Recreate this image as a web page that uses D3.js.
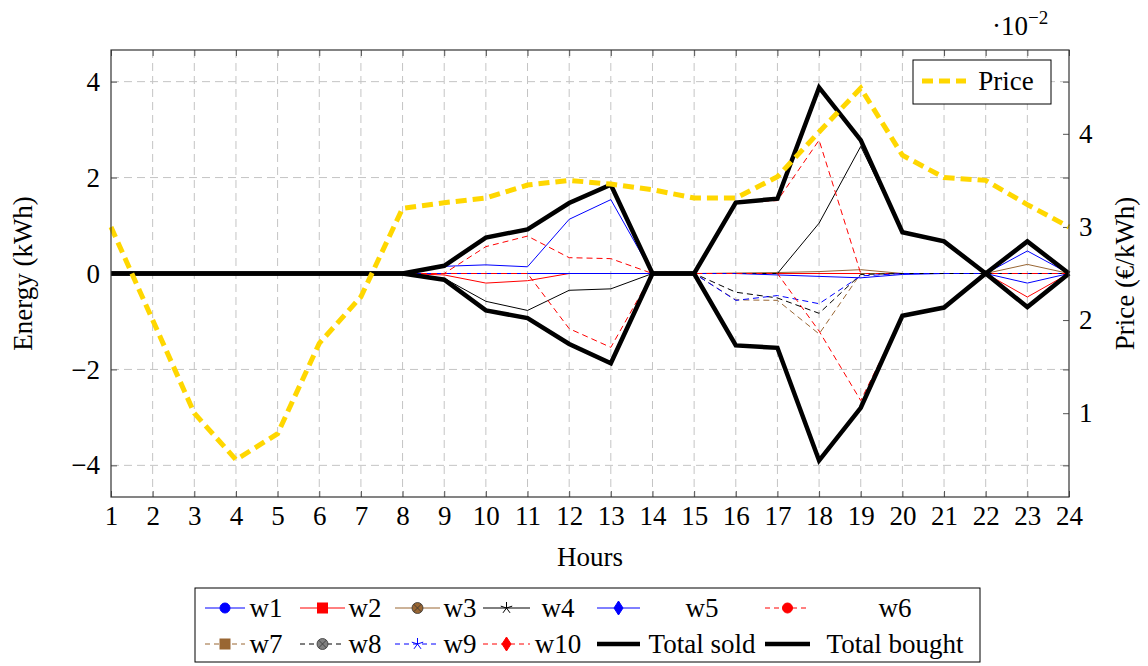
<!DOCTYPE html>
<html>
<head>
<meta charset="utf-8">
<script src="https://cdn.jsdelivr.net/npm/d3@7"></script>
<style>
  body { margin: 0; background: #fff; }
  text { font-family: "Liberation Serif", "DejaVu Serif", serif; fill: #000; }
</style>
</head>
<body>
<svg id="chart" width="1148" height="666"></svg>
<script>
// data
const hours = [1, 2, 3, 4, 5, 6, 7, 8, 9, 10, 11, 12, 13, 14, 15, 16, 17, 18, 19, 20, 21, 22, 23, 24];

const w1  = [0, 0, 0, 0, 0, 0, 0, 0, 0.15, 0.18, 0.14, 1.13, 1.54, 0, 0, 0, 0, 0, 0, 0, 0, 0, 0.47, 0];
const w2  = [0, 0, 0, 0, 0, 0, 0, 0, -0.03, -0.2, -0.15, 0, 0, 0, 0, 0, 0, 0, 0, 0, 0, 0, -0.49, 0];
const w3  = [0, 0, 0, 0, 0, 0, 0, 0, 0, 0, 0, 0, 0, 0, 0, 0.01, 0.02, 0.04, 0.08, 0, 0, 0, 0.19, 0];
const w4  = [0, 0, 0, 0, 0, 0, 0, 0, -0.1, -0.58, -0.77, -0.35, -0.32, 0, 0, 0, 0, 1.05, 2.65, 0.86, 0.67, 0, 0, 0];
const w5  = [0, 0, 0, 0, 0, 0, 0, 0, 0, 0, 0, 0, 0, 0, 0, 0, -0.03, -0.06, -0.09, -0.02, 0, 0, -0.2, 0];
const w6  = [0, 0, 0, 0, 0, 0, 0, 0, 0, 0.56, 0.78, 0.33, 0.31, 0, 0, 1.48, 1.52, 2.78, 0, 0, 0, 0, 0, 0];
const w7  = [0, 0, 0, 0, 0, 0, 0, 0, 0, 0, 0, 0, 0, 0, 0, -0.55, -0.56, -1.26, 0, 0, 0, 0, 0, 0];
const w8  = [0, 0, 0, 0, 0, 0, 0, 0, 0, 0, 0, 0, 0, 0, 0, -0.39, -0.51, -0.83, -0.02, 0, 0, 0, 0, 0];
const w9  = [0, 0, 0, 0, 0, 0, 0, 0, 0, 0, 0, 0, 0, 0, 0, -0.56, -0.46, -0.63, -0.05, 0, 0, 0, 0, 0];
const w10 = [0, 0, 0, 0, 0, 0, 0, 0, 0, 0, 0, -1.15, -1.54, 0, 0, 0, 0, -1.2, -2.65, -0.88, -0.71, 0, 0, 0];

const totalSold   = [0, 0, 0, 0, 0, 0, 0, 0, 0.16, 0.75, 0.92, 1.47, 1.85, 0, 0, 1.48, 1.56, 3.88, 2.78, 0.86, 0.67, 0, 0.67, 0];
const totalBought = [0, 0, 0, 0, 0, 0, 0, 0, -0.13, -0.77, -0.93, -1.47, -1.87, 0, 0, -1.5, -1.55, -3.9, -2.8, -0.88, -0.71, 0, -0.7, 0];

// price in EUR/kWh
const price = [0.030, 0.020, 0.010, 0.005, 0.0078, 0.0175, 0.0225, 0.032, 0.0326, 0.0331, 0.0345, 0.035,
               0.0346, 0.034, 0.0331, 0.0331, 0.0354, 0.0402, 0.0449, 0.0377, 0.0353, 0.035, 0.0324, 0.030];

const energyTicks = [-4, -2, 0, 2, 4];
const priceTicks = [0.01, 0.02, 0.03, 0.04];

// styles
const blue = "#0000ff", red = "#ff0000", brown = "#996633", black = "#000000", gold = "#ffd700";
const series = [
  { name: "w1",  values: w1,  color: blue,  dash: null, mark: "circle" },
  { name: "w2",  values: w2,  color: red,   dash: null, mark: "square" },
  { name: "w3",  values: w3,  color: brown, dash: null, mark: "otimes" },
  { name: "w4",  values: w4,  color: black, dash: null, mark: "star" },
  { name: "w5",  values: w5,  color: blue,  dash: null, mark: "diamond" },
  { name: "w6",  values: w6,  color: red,   dash: "6 4", mark: "circle" },
  { name: "w7",  values: w7,  color: brown, dash: "6 4", mark: "square" },
  { name: "w8",  values: w8,  color: black, dash: "6 4", mark: "otimes", fill: "#808080" },
  { name: "w9",  values: w9,  color: blue,  dash: "6 4", mark: "star" },
  { name: "w10", values: w10, color: red,   dash: "6 4", mark: "diamond" },
  { name: "Total sold",   values: totalSold,   color: black, dash: null, width: 4.5 },
  { name: "Total bought", values: totalBought, color: black, dash: null, width: 4.5 }
];

// dimensions
const plotLeft = 111, plotRight = 1069, plotTop = 50, plotBottom = 497;
const fontSize = 27;

const svg = d3.select("#chart");

const x = d3.scaleLinear().domain([1, 24]).range([plotLeft, plotRight]);
const y = d3.scaleLinear().domain([-4.66, 4.66]).range([plotBottom, plotTop]);
const y2 = d3.scaleLinear().domain([0.001, 0.049]).range([plotBottom, plotTop]);

// grid
const grid = svg.append("g")
  .attr("stroke", "#c4c4c4")
  .attr("stroke-width", 1)
  .attr("stroke-dasharray", "8 5");
grid.selectAll(".vgrid")
  .data(hours.slice(1, -1))
  .enter().append("line")
  .attr("x1", d => x(d)).attr("x2", d => x(d))
  .attr("y1", plotTop).attr("y2", plotBottom);
grid.selectAll(".hgrid")
  .data(energyTicks)
  .enter().append("line")
  .attr("x1", plotLeft).attr("x2", plotRight)
  .attr("y1", d => y(d)).attr("y2", d => y(d));

// axes with inward ticks
const styleAxis = g => {
  g.select(".domain").remove();
  g.selectAll(".tick line").attr("stroke", "#555");
  g.selectAll(".tick text")
    .style("font-family", '"Liberation Serif", "DejaVu Serif", serif')
    .style("font-size", fontSize + "px")
    .attr("fill", "#000");
};

svg.append("g")
  .attr("transform", `translate(0,${plotBottom})`)
  .call(d3.axisBottom(x).tickValues(hours).tickSizeInner(-6).tickSizeOuter(0).tickPadding(9))
  .call(styleAxis);
svg.append("g")
  .attr("transform", `translate(0,${plotTop})`)
  .call(d3.axisTop(x).tickValues(hours).tickSizeInner(-6).tickSizeOuter(0).tickFormat(""))
  .call(styleAxis);
svg.append("g")
  .attr("transform", `translate(${plotLeft},0)`)
  .call(d3.axisLeft(y).tickValues(energyTicks).tickSizeInner(-6).tickSizeOuter(0).tickPadding(11))
  .call(styleAxis);
svg.append("g")
  .attr("transform", `translate(${plotRight},0)`)
  .call(d3.axisRight(y).tickValues(energyTicks).tickSizeInner(-6).tickSizeOuter(0).tickFormat(""))
  .call(styleAxis);
svg.append("g")
  .attr("transform", `translate(${plotRight},0)`)
  .call(d3.axisRight(y2).tickValues(priceTicks).tickSizeInner(-6).tickSizeOuter(0).tickPadding(10)
    .tickFormat(d => Math.round(d * 100)))
  .call(styleAxis);

// energy lines
const line = d3.line()
  .x((d, i) => x(hours[i]))
  .y(d => y(d));

svg.append("g")
  .selectAll("path")
  .data(series)
  .enter().append("path")
  .attr("d", d => line(d.values))
  .attr("fill", "none")
  .attr("stroke", d => d.color)
  .attr("stroke-width", d => d.width || 1)
  .attr("stroke-dasharray", d => d.dash)
  .attr("stroke-linejoin", "miter");

// price line on second axis
const priceLine = d3.line()
  .x((d, i) => x(hours[i]))
  .y(d => y2(d));

svg.append("path")
  .attr("d", priceLine(price))
  .attr("fill", "none")
  .attr("stroke", gold)
  .attr("stroke-width", 5)
  .attr("stroke-dasharray", "11 6");

// frame
svg.append("rect")
  .attr("x", plotLeft).attr("y", plotTop)
  .attr("width", plotRight - plotLeft).attr("height", plotBottom - plotTop)
  .attr("fill", "none")
  .attr("stroke", "#333")
  .attr("stroke-width", 1.2);

// axis labels
svg.append("text")
  .attr("x", (plotLeft + plotRight) / 2).attr("y", 566)
  .attr("text-anchor", "middle")
  .style("font-size", fontSize + "px")
  .text("Hours");
svg.append("text")
  .attr("transform", `translate(32,${(plotTop + plotBottom) / 2}) rotate(-90)`)
  .attr("text-anchor", "middle")
  .style("font-size", fontSize + "px")
  .text("Energy (kWh)");
svg.append("text")
  .attr("transform", `translate(1134,${(plotTop + plotBottom) / 2}) rotate(-90)`)
  .attr("text-anchor", "middle")
  .style("font-size", fontSize + "px")
  .text("Price (€/kWh)");

// multiplier
const mult = svg.append("text")
  .attr("x", 992).attr("y", 35)
  .style("font-size", fontSize + "px");
mult.append("tspan").text("·10");
mult.append("tspan").attr("dy", -11).style("font-size", "19px").text("−2");

// price legend
svg.append("rect")
  .attr("x", 913).attr("y", 60).attr("width", 138).attr("height", 44)
  .attr("fill", "#fff").attr("stroke", "#000").attr("stroke-width", 1);
svg.append("line")
  .attr("x1", 922).attr("x2", 966).attr("y1", 81).attr("y2", 81)
  .attr("stroke", gold).attr("stroke-width", 5).attr("stroke-dasharray", "11 6");
svg.append("text")
  .attr("x", 1006).attr("y", 90)
  .attr("text-anchor", "middle")
  .style("font-size", fontSize + "px")
  .text("Price");

// marker drawing for legend
function drawMark(g, s, cx, cy) {
  const fill = s.fill || s.color;
  if (s.mark === "circle") {
    g.append("circle").attr("cx", cx).attr("cy", cy).attr("r", 5)
      .attr("fill", fill).attr("stroke", s.color);
  } else if (s.mark === "square") {
    g.append("rect").attr("x", cx - 5).attr("y", cy - 5).attr("width", 10).attr("height", 10)
      .attr("fill", fill).attr("stroke", s.color);
  } else if (s.mark === "diamond") {
    g.append("path")
      .attr("d", `M${cx},${cy - 7}L${cx + 4.5},${cy}L${cx},${cy + 7}L${cx - 4.5},${cy}Z`)
      .attr("fill", fill).attr("stroke", s.color);
  } else if (s.mark === "otimes") {
    g.append("circle").attr("cx", cx).attr("cy", cy).attr("r", 5.5)
      .attr("fill", fill).attr("stroke", "#333").attr("stroke-width", 0.8);
    const r = 3.9;
    g.append("path")
      .attr("d", `M${cx - r},${cy - r}L${cx + r},${cy + r}M${cx - r},${cy + r}L${cx + r},${cy - r}`)
      .attr("stroke", "#333").attr("stroke-width", 0.8);
  } else if (s.mark === "star") {
    const arms = d3.range(5).map(k => {
      const a = -Math.PI / 2 + k * 2 * Math.PI / 5;
      return `M${cx},${cy}L${cx + 6 * Math.cos(a)},${cy + 6 * Math.sin(a)}`;
    }).join("");
    g.append("path").attr("d", arms).attr("stroke", s.color).attr("stroke-width", 1);
  }
}

// bottom legend
const legendCols = [
  { x0: 205, x1: 245, tx: 266 },
  { x0: 300, x1: 345, tx: 365 },
  { x0: 395, x1: 440, tx: 460 },
  { x0: 483, x1: 530, tx: 558 },
  { x0: 597, x1: 640, tx: 702 },
  { x0: 765, x1: 810, tx: 895 }
];
const legendRows = [608, 644];

svg.append("rect")
  .attr("x", 195).attr("y", 588).attr("width", 785).attr("height", 74)
  .attr("fill", "#fff").attr("stroke", "#000").attr("stroke-width", 1);

const legend = svg.append("g");
series.forEach((s, i) => {
  const col = legendCols[i % 6];
  const ry = legendRows[Math.floor(i / 6)];
  const g = legend.append("g");
  g.append("line")
    .attr("x1", col.x0).attr("x2", col.x1).attr("y1", ry).attr("y2", ry)
    .attr("stroke", s.color)
    .attr("stroke-width", s.width || 1)
    .attr("stroke-dasharray", s.dash ? "5 4" : null);
  if (s.mark) drawMark(g, s, (col.x0 + col.x1) / 2, ry);
  g.append("text")
    .attr("x", col.tx).attr("y", ry + 9)
    .attr("text-anchor", "middle")
    .style("font-size", fontSize + "px")
    .text(s.name);
});
</script>
</body>
</html>
